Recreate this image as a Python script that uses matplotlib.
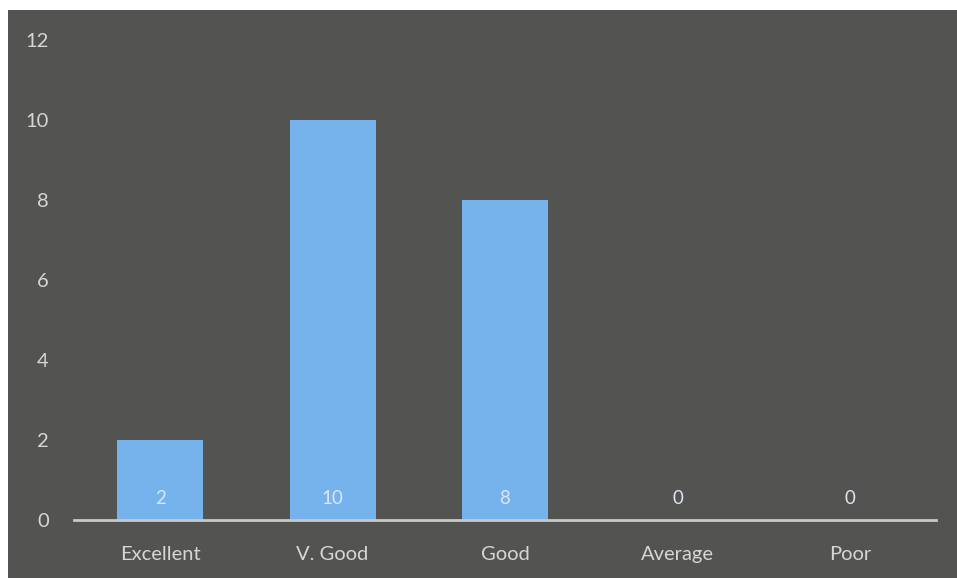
import matplotlib.pyplot as plt
from matplotlib.patches import Rectangle

categories = ['Excellent', 'V. Good', 'Good', 'Average', 'Poor']
counts = [2, 10, 8, 0, 0]
y_ticks = [0, 2, 4, 6, 8, 10, 12]

plt.rcParams['font.family'] = ['Lato', 'DejaVu Sans']

fig = plt.figure(figsize=(9.57, 5.78), dpi=100, facecolor='white')
# dark scanned background, with a thin white margin on the left and top
fig.patches.append(Rectangle((8 / 957, 0), 1, 568 / 578, transform=fig.transFigure,
                             facecolor='#535352', edgecolor='none', zorder=-10))

ax = fig.add_axes([0.0773, 0.1003, 0.9009, 0.8304])
ax.set_zorder(5)
ax.set_facecolor('none')

x = range(len(categories))
ax.bar(x, counts, width=0.5, color='#76b2ec', edgecolor='none', zorder=2)

for i, v in enumerate(counts):
    ax.text(i, 0.55, str(v), ha='center', va='center', fontsize=13.5,
            color='#dde6f0', zorder=3)

ax.set_xlim(-0.5, len(categories) - 0.5)
ax.set_ylim(0, 12)
ax.set_yticks(y_ticks)
ax.set_xticks(list(x))
ax.set_xticklabels(categories)

for side in ['top', 'right', 'left']:
    ax.spines[side].set_visible(False)
ax.spines['bottom'].set_color('#c8c8c8')
ax.spines['bottom'].set_linewidth(2)

ax.tick_params(axis='both', length=0, colors='#d6d6d6', labelsize=14.5)
ax.tick_params(axis='y', pad=18)
ax.tick_params(axis='x', pad=19)

fig.savefig('out.png', dpi=100, facecolor=fig.get_facecolor())
